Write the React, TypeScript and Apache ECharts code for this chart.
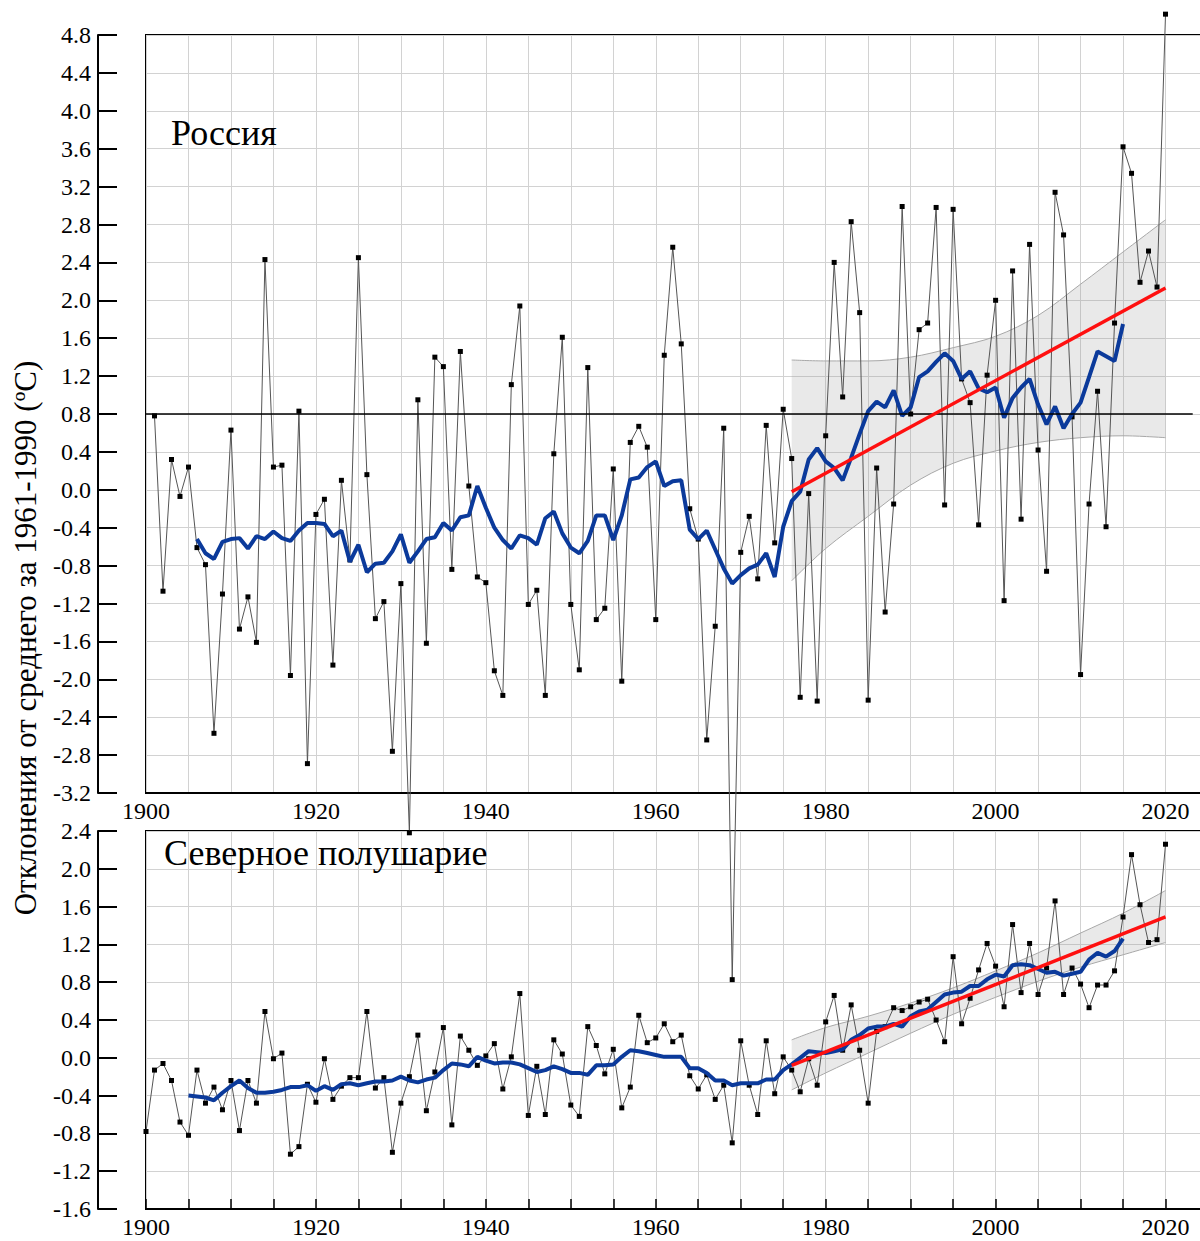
import React, { useEffect, useRef } from "react";
import * as echarts from "echarts";

// ---------- data ----------
const RU_START = 1901;
const ruValues = [
  0.78, -1.07, 0.32, -0.07, 0.24, -0.61, -0.79, -2.57, -1.1, 0.63,
  -1.47, -1.13, -1.61, 2.43, 0.24, 0.26, -1.96, 0.83, -2.89, -0.26,
  -0.1, -1.85, 0.1, -0.74, 2.45, 0.16, -1.36, -1.18, -2.76, -0.99,
  -3.62, 0.95, -1.62, 1.4, 1.3, -0.84, 1.46, 0.04, -0.92, -0.98,
  -1.91, -2.17, 1.11, 1.94, -1.21, -1.06, -2.17, 0.38, 1.61, -1.21,
  -1.9, 1.29, -1.37, -1.25, 0.22, -2.02, 0.5, 0.67, 0.45, -1.37,
  1.42, 2.56, 1.54, -0.2, -0.52, -2.64, -1.44, 0.65, -5.17, -0.66,
  -0.28, -0.94, 0.68, -0.56, 0.85, 0.33, -2.19, -0.04, -2.23, 0.57,
  2.4, 0.98, 2.83, 1.87, -2.22, 0.23, -1.29, -0.15, 2.99, 0.8,
  1.69, 1.76, 2.98, -0.16, 2.96, 1.17, 0.92, -0.37, 1.21, 2.0,
  -1.17, 2.31, -0.31, 2.59, 0.42, -0.86, 3.14, 2.69, 0.77, -1.95,
  -0.15, 1.04, -0.39, 1.76, 3.62, 3.34, 2.19, 2.52, 2.14, 5.02,
];
const RU_AVG_START = 1906;
const ruAvg = [
  -0.52, -0.67, -0.73, -0.55, -0.52, -0.51, -0.62, -0.49, -0.52, -0.44,
  -0.51, -0.54, -0.43, -0.35, -0.35, -0.36, -0.49, -0.43, -0.76, -0.58,
  -0.87, -0.78, -0.77, -0.65, -0.47, -0.77, -0.65, -0.52, -0.5, -0.35,
  -0.43, -0.29, -0.27, 0.04, -0.19, -0.4, -0.53, -0.62, -0.48, -0.51,
  -0.58, -0.3, -0.23, -0.46, -0.61, -0.67, -0.54, -0.27, -0.27, -0.53,
  -0.27, 0.11, 0.13, 0.24, 0.3, 0.04, 0.09, 0.1, -0.42, -0.52,
  -0.43, -0.63, -0.83, -0.99, -0.9, -0.83, -0.79, -0.67, -0.92, -0.39,
  -0.12, -0.02, 0.32, 0.44, 0.3, 0.23, 0.1, 0.34, 0.59, 0.83,
  0.93, 0.87, 1.05, 0.78, 0.87, 1.19, 1.25, 1.35, 1.44, 1.36,
  1.17, 1.25, 1.07, 1.03, 1.08, 0.76, 0.97, 1.08, 1.17, 0.9,
  0.69, 0.88, 0.65, 0.8, 0.92, 1.19, 1.46, 1.41, 1.36, 1.75,
];
const NH_START = 1900;
const nhValues = [
  -0.78, -0.13, -0.06, -0.24, -0.68, -0.82, -0.13, -0.48, -0.31, -0.55,
  -0.24, -0.77, -0.24, -0.48, 0.49, -0.01, 0.05, -1.02, -0.94, -0.28,
  -0.47, -0.01, -0.44, -0.3, -0.21, -0.21, 0.49, -0.32, -0.21, -1.0,
  -0.48, -0.2, 0.24, -0.56, -0.15, 0.32, -0.71, 0.23, 0.08, -0.08,
  0.02, 0.15, -0.33, 0.01, 0.68, -0.61, -0.09, -0.6, 0.19, 0.04,
  -0.5, -0.62, 0.33, 0.13, -0.17, 0.09, -0.53, -0.31, 0.45, 0.16,
  0.21, 0.36, 0.17, 0.24, -0.19, -0.33, -0.18, -0.44, -0.29, -0.9,
  0.18, -0.29, -0.6, 0.18, -0.38, 0.01, -0.13, -0.36, -0.01, -0.29,
  0.38, 0.66, 0.08, 0.56, 0.08, -0.48, 0.28, 0.33, 0.53, 0.5,
  0.54, 0.59, 0.62, 0.4, 0.17, 1.07, 0.36, 0.63, 0.93, 1.21,
  0.97, 0.54, 1.41, 0.69, 1.21, 0.67, 0.95, 1.66, 0.67, 0.95,
  0.78, 0.53, 0.77, 0.77, 0.92, 1.49, 2.15, 1.62, 1.22, 1.25,
  2.26,
];
const NH_AVG_START = 1905;
const nhAvg = [
  -0.4, -0.41, -0.42, -0.45, -0.37, -0.3, -0.24, -0.32, -0.37, -0.37,
  -0.36, -0.34, -0.31, -0.31, -0.29, -0.35, -0.3, -0.34, -0.28, -0.27,
  -0.29, -0.27, -0.25, -0.25, -0.24, -0.2, -0.24, -0.26, -0.23, -0.21,
  -0.13, -0.06, -0.07, -0.09, 0.01, -0.03, -0.06, -0.05, -0.05, -0.07,
  -0.11, -0.15, -0.13, -0.09, -0.12, -0.16, -0.16, -0.18, -0.08, -0.08,
  -0.07, 0.01, 0.08, 0.07, 0.05, 0.03, 0.01, 0.01, 0.01, -0.11,
  -0.11, -0.16, -0.24, -0.24, -0.29, -0.27, -0.27, -0.27, -0.23, -0.23,
  -0.13, -0.07, 0.0, 0.07, 0.06, 0.05, 0.07, 0.09, 0.19, 0.24,
  0.31, 0.33, 0.33, 0.36, 0.33, 0.44, 0.49, 0.51, 0.59, 0.67,
  0.69, 0.7, 0.76, 0.76, 0.83, 0.88, 0.86, 0.98, 0.99, 0.98,
  0.94, 0.9, 0.91, 0.87, 0.89, 0.91, 1.04, 1.11, 1.07, 1.13,
  1.26,
];
const trendYears = [1976, 2020];
const ruTrend = [-0.02, 2.13];
const nhTrend = [-0.08, 1.49];
const bandYears = [1976, 1980, 1985, 1990, 1995, 2000, 2005, 2010, 2015, 2020];
const ruBandUpper = [1.37, 1.36, 1.36, 1.4, 1.5, 1.62, 1.84, 2.17, 2.51, 2.85];
const ruBandLower = [-0.96, -0.62, -0.28, 0.05, 0.28, 0.41, 0.5, 0.55, 0.57, 0.55];
const nhBandUpper = [0.19, 0.32, 0.44, 0.58, 0.74, 0.92, 1.11, 1.32, 1.53, 1.77];
const nhBandLower = [-0.34, -0.16, 0.05, 0.26, 0.46, 0.64, 0.81, 0.96, 1.09, 1.22];
const ruRefValue = 0.8;
const ruRefSpan = [1900, 2023.2];
const xRange = [1900, 2025];
const ruYRange = [-3.2, 4.8];
const nhYRange = [-1.6, 2.4];
const panelTitles = ["Россия", "Северное полушарие"];
const yAxisTitle = "Отклонения от среднего за 1961-1990 (ºC)";

// ---------- helpers ----------
const FONT = '"Liberation Serif", "Times New Roman", serif';
const seq = (start: number, arr: number[]) => arr.map((v, i) => [start + i, v]);
const zip = (xs: number[], ys: number[]) => xs.map((x, i) => [x, ys[i]]);

const GRID_COLOR = "#d2d2d2";
const BLUE = "#0b3a9b";
const RED = "#ff1010";

function xAxis(gridIndex: number, ticks: boolean) {
  return {
    type: "value",
    gridIndex,
    min: xRange[0],
    max: xRange[1],
    interval: 5,
    axisLine: { show: true, onZero: false, lineStyle: { color: "#000", width: 2 } },
    axisTick: ticks
      ? { show: true, inside: true, length: 10, lineStyle: { color: "#000", width: 1.5 } }
      : { show: false },
    splitLine: { show: true, lineStyle: { color: GRID_COLOR, width: 1 } },
    axisLabel: {
      show: true,
      margin: 6,
      color: "#000",
      fontSize: 24,
      fontFamily: FONT,
      formatter: (v: number) => (Math.round(v) % 20 === 0 ? String(Math.round(v)) : ""),
    },
  };
}

function yAxis(gridIndex: number, range: number[]) {
  return {
    type: "value",
    gridIndex,
    min: range[0],
    max: range[1],
    interval: 0.4,
    offset: 48,
    axisLine: { show: true, onZero: false, lineStyle: { color: "#000", width: 2 } },
    axisTick: { show: true, inside: true, length: 19, lineStyle: { color: "#000", width: 2 } },
    splitLine: { show: true, lineStyle: { color: GRID_COLOR, width: 1 } },
    axisLabel: {
      show: true,
      margin: 7,
      color: "#000",
      fontSize: 24,
      fontFamily: FONT,
      formatter: (v: number) => v.toFixed(1),
    },
  };
}

// Band: stacked pair of lines. Data given as [value, year] so that the
// stacked dimension is the value (y) one.
function bandSeries(idx: number, lower: number[], upper: number[], stack: string) {
  const common = {
    type: "line",
    xAxisIndex: idx,
    yAxisIndex: idx,
    stack,
    stackStrategy: "all",
    encode: { x: 1, y: 0 },
    symbol: "none",
    smooth: 0.35,
    silent: true,
    z: 1,
    lineStyle: { color: "#a8a8a8", width: 1 },
  };
  return [
    { ...common, name: stack + "-lo", data: bandYears.map((y, i) => [lower[i], y]) },
    {
      ...common,
      name: stack + "-hi",
      data: bandYears.map((y, i) => [upper[i] - lower[i], y]),
      areaStyle: { color: "rgba(150,150,150,0.3)" },
    },
  ];
}

function dataSeries(idx: number, data: number[][], extra: any = {}) {
  return {
    type: "line",
    xAxisIndex: idx,
    yAxisIndex: idx,
    data,
    symbol: "rect",
    symbolSize: 5,
    z: 3,
    itemStyle: { color: "#000" },
    lineStyle: { color: "#555", width: 1 },
    ...extra,
  };
}

function smoothSeries(idx: number, data: number[][]) {
  return {
    type: "line",
    xAxisIndex: idx,
    yAxisIndex: idx,
    data,
    symbol: "none",
    z: 4,
    lineStyle: { color: BLUE, width: 4 },
  };
}

function trendSeries(idx: number, values: number[]) {
  return {
    type: "line",
    xAxisIndex: idx,
    yAxisIndex: idx,
    data: zip(trendYears, values),
    symbol: "none",
    z: 5,
    lineStyle: { color: RED, width: 3.5 },
  };
}

export default function App() {
  const ref = useRef<HTMLDivElement>(null);

  useEffect(() => {
    document.body.style.margin = "0";
    if (!ref.current) return;
    const chart = echarts.init(ref.current, undefined, { renderer: "svg" });
    const option: any = {
      animation: false,
      backgroundColor: "#fff",
      textStyle: { fontFamily: FONT },
      grid: [
        { left: 146, top: 35, width: 1062, height: 758, show: true, borderColor: "#000", borderWidth: 2, backgroundColor: "transparent" },
        { left: 146, top: 831, width: 1062, height: 378, show: true, borderColor: "#000", borderWidth: 2, backgroundColor: "transparent" },
      ],
      xAxis: [xAxis(0, false), xAxis(1, true)],
      yAxis: [yAxis(0, ruYRange), yAxis(1, nhYRange)],
      series: [
        ...bandSeries(0, ruBandLower, ruBandUpper, "ruBand"),
        ...bandSeries(1, nhBandLower, nhBandUpper, "nhBand"),
        dataSeries(0, seq(RU_START, ruValues), {
          clip: false,
          markLine: {
            silent: true,
            symbol: ["none", "none"],
            label: { show: false },
            lineStyle: { color: "#000", width: 1.5, type: "solid" },
            data: [[{ coord: [ruRefSpan[0], ruRefValue] }, { coord: [ruRefSpan[1], ruRefValue] }]],
          },
        }),
        dataSeries(1, seq(NH_START, nhValues)),
        smoothSeries(0, seq(RU_AVG_START, ruAvg)),
        smoothSeries(1, seq(NH_AVG_START, nhAvg)),
        trendSeries(0, ruTrend),
        trendSeries(1, nhTrend),
      ],
      graphic: [
        {
          type: "text",
          x: 171,
          y: 133,
          z: 10,
          style: {
            text: panelTitles[0],
            font: '36px "Liberation Serif"',
            fill: "#000",
            textAlign: "left",
            textVerticalAlign: "middle",
            align: "left",
            verticalAlign: "middle",
          },
        },
        {
          type: "text",
          x: 164,
          y: 853,
          z: 10,
          style: {
            text: panelTitles[1],
            font: '36px "Liberation Serif"',
            fill: "#000",
            textAlign: "left",
            textVerticalAlign: "middle",
            align: "left",
            verticalAlign: "middle",
          },
        },
        {
          type: "text",
          x: 25,
          y: 638,
          rotation: Math.PI / 2,
          z: 10,
          style: {
            text: yAxisTitle,
            font: '31px "Liberation Serif"',
            fill: "#000",
            textAlign: "center",
            textVerticalAlign: "middle",
            align: "center",
            verticalAlign: "middle",
          },
        },
      ],
    };
    chart.setOption(option);
    return () => chart.dispose();
  }, []);

  return (
    <div style={{ width: 1200, height: 1241, overflow: "hidden", position: "relative", background: "#fff" }}>
      <div ref={ref} style={{ width: 1215, height: 1241 }} />
    </div>
  );
}
